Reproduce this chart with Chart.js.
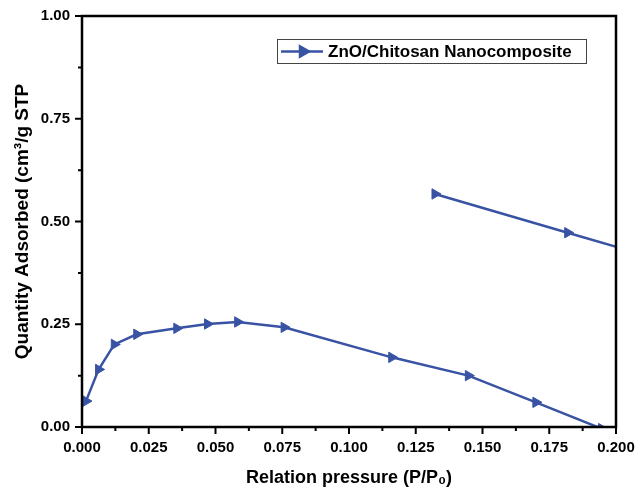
<!DOCTYPE html>
<html>
<head>
<meta charset="utf-8">
<script src="https://cdn.jsdelivr.net/npm/chart.js@4.4.0/dist/chart.umd.min.js"></script>
<style>
  html, body { margin: 0; padding: 0; background: #fff; }
</style>
</head>
<body>
<canvas id="myChart" width="637" height="490"></canvas>
<script>
// isotherm, null = break in the line
const pressure = [0.0015, 0.0062, 0.0121, 0.0205, 0.0355, 0.047, 0.0583, 0.0757, 0.116, 0.1447, 0.170, 0.1946, null, 0.1322, 0.1819, 0.215]
const adsorbed = [0.063, 0.140, 0.201, 0.2255, 0.240, 0.2506, 0.2555, 0.2425, 0.1695, 0.125, 0.060, -0.004, null, 0.567, 0.4728, 0.41]

const xTicks = [0, 0.025, 0.05, 0.075, 0.1, 0.125, 0.15, 0.175, 0.2]
const yTicks = [0, 0.25, 0.5, 0.75, 1]
const seriesName = 'ZnO/Chitosan Nanocomposite'

const blue = '#3953a4'
const font = 'Liberation Sans, Arial, sans-serif'

let points = pressure.map((p, i) => ({ x: p, y: adsorbed[i] }))

// box around the plot, major + minor ticks, and the inset legend
const frame = {
  id: 'frame',
  afterDraw(chart) {
    const { ctx, chartArea: a, scales } = chart
    const x = scales.x, y = scales.y
    ctx.save()
    ctx.strokeStyle = '#000'
    ctx.lineWidth = 2
    ctx.beginPath()
    xTicks.forEach((v, i) => {
      let px = x.getPixelForValue(v)
      ctx.moveTo(px, a.bottom); ctx.lineTo(px, a.bottom + 7)
      if (i < xTicks.length - 1) {
        let mx = x.getPixelForValue((v + xTicks[i + 1]) / 2)
        ctx.moveTo(mx, a.bottom); ctx.lineTo(mx, a.bottom + 4)
      }
    })
    yTicks.forEach((v, i) => {
      let py = y.getPixelForValue(v)
      ctx.moveTo(a.left, py); ctx.lineTo(a.left - 7, py)
      if (i < yTicks.length - 1) {
        let my = y.getPixelForValue((v + yTicks[i + 1]) / 2)
        ctx.moveTo(a.left, my); ctx.lineTo(a.left - 4, my)
      }
    })
    ctx.stroke()
    ctx.lineWidth = 2.5
    ctx.strokeRect(a.left, a.top, a.right - a.left, a.bottom - a.top)

    // legend
    let lx = a.left + 195, ly = a.top + 23
    ctx.lineWidth = 1
    ctx.strokeStyle = '#444'
    ctx.strokeRect(lx + 0.5, ly + 0.5, 309, 24)
    let cy = ly + 12.5
    ctx.strokeStyle = blue
    ctx.lineWidth = 2.5
    ctx.beginPath()
    ctx.moveTo(lx + 4, cy); ctx.lineTo(lx + 46, cy)
    ctx.stroke()
    ctx.fillStyle = blue
    Chart.helpers.drawPoint(ctx, { pointStyle: 'triangle', rotation: 90, radius: 6, borderWidth: 1 }, lx + 26, cy)
    ctx.fillStyle = '#000'
    ctx.font = 'bold 17px ' + font
    ctx.textBaseline = 'middle'
    ctx.fillText(seriesName, lx + 51, cy + 1)
    ctx.restore()
  }
}

const ctx = document.getElementById('myChart').getContext('2d')
Chart.defaults.color = '#000'
const myChart = new Chart(ctx, {
  type: 'scatter',
  data: {
    datasets: [{
      label: seriesName,
      data: points,
      showLine: true,
      spanGaps: false,
      borderColor: blue,
      backgroundColor: blue,
      borderWidth: 2.5,
      pointStyle: 'triangle',
      rotation: 90,
      pointRadius: 6,
      pointBorderWidth: 1,
      clip: 0
    }]
  },
  options: {
    responsive: false,
    animation: false,
    layout: { padding: { left: 0, top: 16, right: 21, bottom: 0 } },
    plugins: { legend: { display: false }, tooltip: { enabled: false } },
    scales: {
      x: {
        type: 'linear',
        min: 0,
        max: 0.2,
        afterFit: (s) => { s.height = 63; s.paddingLeft = 0; s.paddingRight = 0 },
        afterBuildTicks: (s) => { s.ticks = xTicks.map(v => ({ value: v })) },
        grid: { display: false, drawTicks: false },
        border: { display: false },
        ticks: {
          padding: 12,
          font: { family: font, size: 15, weight: 'bold' },
          callback: (v) => v.toFixed(3)
        },
        title: {
          display: true,
          text: 'Relation pressure (P/P\u2080)',
          font: { family: font, size: 18, weight: 'bold' },
          padding: { top: 0, bottom: 1 }
        }
      },
      y: {
        min: 0,
        max: 1,
        afterFit: (s) => { s.width = 82; s.paddingTop = 0; s.paddingBottom = 0 },
        afterBuildTicks: (s) => { s.ticks = yTicks.map(v => ({ value: v })) },
        grid: { display: false, drawTicks: false },
        border: { display: false },
        ticks: {
          padding: 12,
          font: { family: font, size: 15, weight: 'bold' },
          callback: (v) => v.toFixed(2)
        },
        title: {
          display: true,
          text: 'Quantity Adsorbed (cm\u00b3/g STP',
          font: { family: font, size: 19, weight: 'bold' },
          padding: { top: 11, bottom: 0 }
        }
      }
    }
  },
  plugins: [frame]
})
</script>
</body>
</html>
